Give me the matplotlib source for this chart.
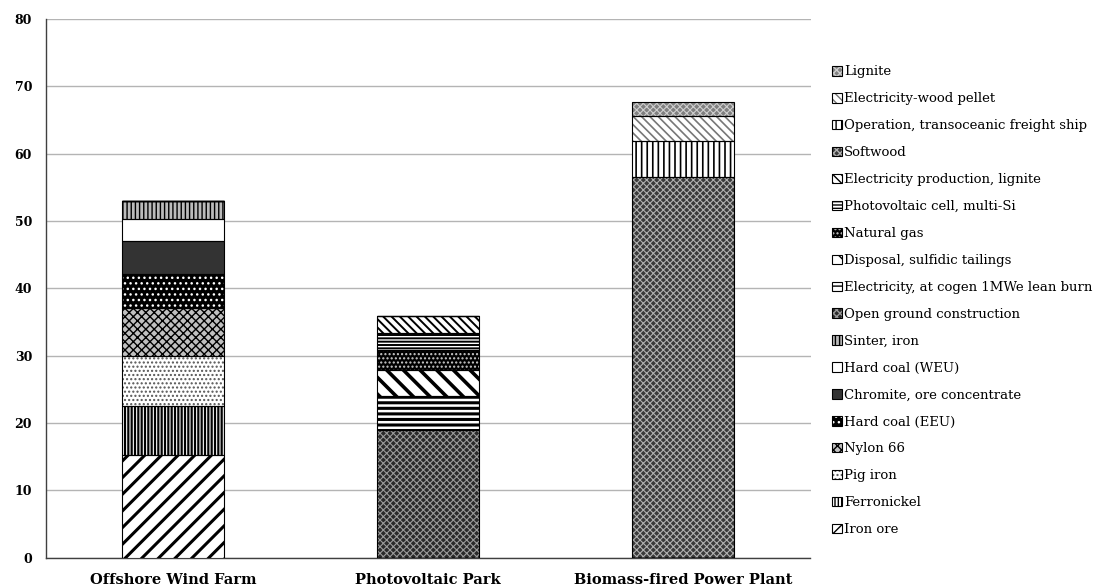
import matplotlib
matplotlib.use("Agg")
import matplotlib.pyplot as plt
from matplotlib.patches import Patch
import numpy as np

plt.rcParams['font.family'] = ['DejaVu Serif']

categories = ["Offshore Wind Farm", "Photovoltaic Park", "Biomass-fired Power Plant"]

# contributors (bottom to top) and values per category
contributors = [
    "Iron ore", "Ferronickel", "Pig iron", "Nylon 66", "Hard coal (EEU)",
    "Chromite, ore concentrate", "Hard coal (WEU)", "Sinter, iron",
    "Open ground construction", "Electricity, at cogen 1MWe lean burn",
    "Disposal, sulfidic tailings", "Natural gas", "Photovoltaic cell, multi-Si",
    "Electricity production, lignite", "Softwood",
    "Operation, transoceanic freight ship", "Electricity-wood pellet", "Lignite",
]
offshore = [15.3, 7.3, 7.3, 7.2, 5.1, 4.8, 3.3, 2.7, 0, 0, 0, 0, 0, 0, 0, 0, 0, 0]
photovoltaic = [0, 0, 0, 0, 0, 0, 0, 0, 19.0, 5.0, 3.9, 3.0, 2.5, 2.5, 0, 0, 0, 0]
biomass = [0, 0, 0, 0, 0, 0, 0, 0, 0, 0, 0, 0, 0, 0, 56.5, 5.4, 3.7, 2.1]

yticks = [0, 10, 20, 30, 40, 50, 60, 70, 80]

# styles: (facecolor, hatch colour, hatch, hatch linewidth)
styles = [
    ("white", "black", "//", 2.2),
    ("white", "black", "|||||", 1.6),
    ("white", "#555555", "....", 1.0),
    ("#c0c0c0", "black", "xxxx", 1.0),
    ("black", "white", "...", 1.0),
    ("#333333", "#333333", "", 1.0),
    ("white", "white", "", 1.0),
    ("#bbbbbb", "black", "||||", 1.0),
    ("#2a2a2a", "#9a9a9a", "xxxxx", 0.8),
    ("white", "black", "---", 2.2),
    ("white", "black", "\\\\", 2.6),
    ("black", "#cccccc", "....", 1.0),
    ("white", "black", "-----", 1.4),
    ("white", "black", "\\\\\\\\", 1.4),
    ("#3a3a3a", "#b0b0b0", "xxxxx", 0.8),
    ("white", "black", "|||", 1.2),
    ("white", "#777777", "\\\\\\\\", 1.2),
    ("#808080", "#cfcfcf", "xxxxx", 0.8),
]


def hatched(artist, hlw):
    if hasattr(artist, 'set_hatch_linewidth'):
        artist.set_hatch_linewidth(hlw)


fig = plt.figure(figsize=(10.98, 5.87), dpi=100)
ax = fig.add_axes([46 / 1098, 1 - 557.7 / 587, (810.5 - 46) / 1098, (557.7 - 19) / 587])

x = np.arange(len(categories))
data = np.array([offshore, photovoltaic, biomass]).T
bottoms = np.zeros(len(categories))
width = 0.4
handles = []
for i, name in enumerate(contributors):
    fc, hc, hatch, hlw = styles[i]
    vals = data[i]
    with plt.rc_context({'hatch.linewidth': hlw}):
        bars = ax.bar(x, vals, width, bottom=bottoms, color=fc, edgecolor=hc,
                      hatch=hatch, linewidth=0, zorder=3)
        for b in bars:
            hatched(b, hlw)
        p1 = Patch(facecolor=fc, edgecolor=hc, hatch=hatch, linewidth=0)
        hatched(p1, hlw)
    p2 = Patch(fill=False, edgecolor="black", linewidth=0.8)
    ax.bar(x, vals, width, bottom=bottoms, fill=False, edgecolor="black",
           linewidth=0.8, zorder=4)
    handles.append((p1, p2))
    bottoms = bottoms + vals

ax.set_xlim(-0.5, 2.5)
ax.set_ylim(0, 80)
ax.set_yticks(yticks)
ax.set_xticks(x)
ax.set_xticklabels(categories, fontweight='bold', fontsize=10.5)
ax.set_yticklabels([str(v) for v in yticks], fontweight='bold', fontsize=9)
ax.tick_params(axis='both', length=0)
ax.tick_params(axis='y', pad=10)
ax.tick_params(axis='x', pad=11)
ax.grid(axis='y', color='#b4b4b4', linewidth=1.0, zorder=0)
ax.set_axisbelow(True)
for s in ['top', 'right']:
    ax.spines[s].set_visible(False)
for s in ['left', 'bottom']:
    ax.spines[s].set_color('#404040')
    ax.spines[s].set_linewidth(1.0)

leg = fig.legend(handles[::-1], contributors[::-1], loc='upper left',
                 bbox_to_anchor=(832 / 1098, 1 - 65.5 / 587), frameon=False,
                 fontsize=9.5, handlelength=0.72, handleheight=0.72,
                 handletextpad=0.18, labelspacing=1.055, borderaxespad=0,
                 borderpad=0)

fig.savefig("out.png", dpi=100)
